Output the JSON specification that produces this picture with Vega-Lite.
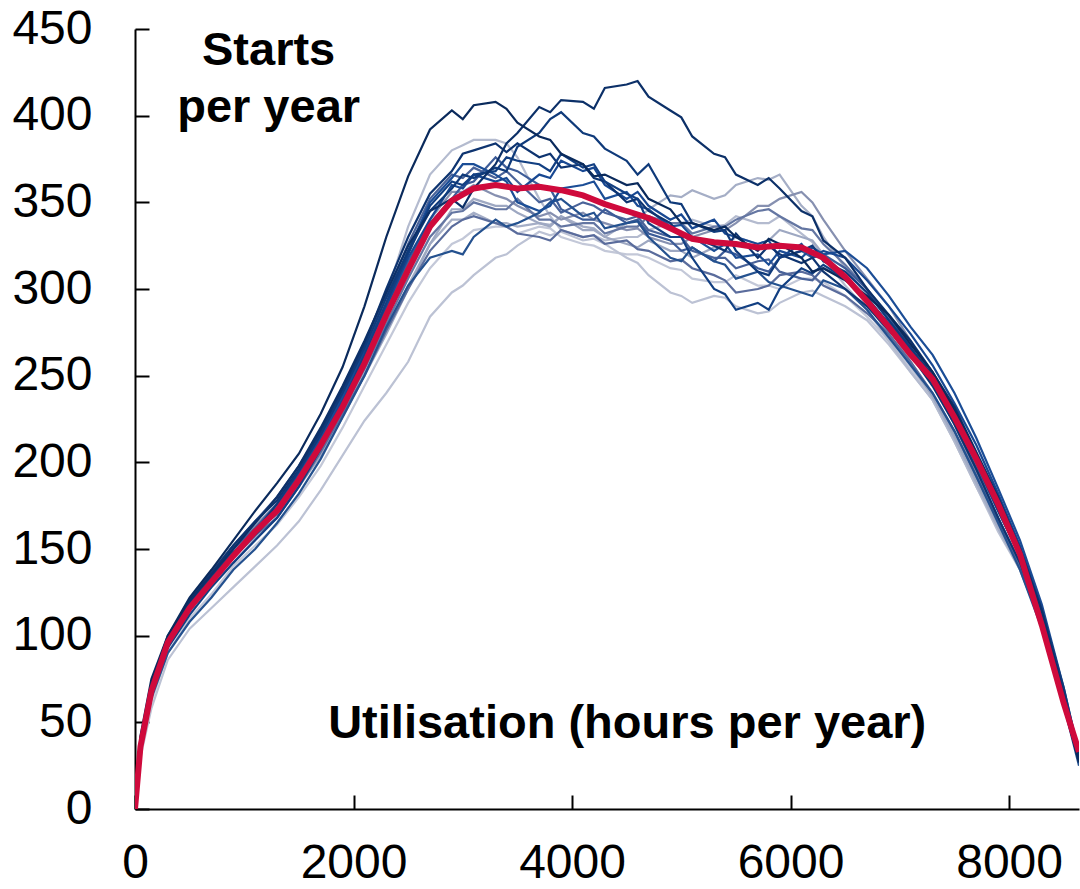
{
"$schema":"https://vega.github.io/schema/vega-lite/v6.json",
"width":944,"height":780,
"autosize":{"type":"none"},
"padding":{"left":135,"top":29,"right":1,"bottom":80},
"background":"white",
"config":{"view":{"stroke":null},"font":"Liberation Sans"},
"datasets":{
"years":[
{"s":18,"x":0,"y":0},{"s":18,"x":50,"y":33},{"s":18,"x":150,"y":62},{"s":18,"x":300,"y":90},{"s":18,"x":500,"y":110},{"s":18,"x":700,"y":124},{"s":18,"x":900,"y":140},{"s":18,"x":1100,"y":152},{"s":18,"x":1300,"y":164},{"s":18,"x":1500,"y":180},{"s":18,"x":1700,"y":198},{"s":18,"x":1900,"y":220},{"s":18,"x":2100,"y":244},{"s":18,"x":2300,"y":268},{"s":18,"x":2500,"y":292},{"s":18,"x":2700,"y":312},{"s":18,"x":2900,"y":326},{"s":18,"x":3100,"y":334},{"s":18,"x":3300,"y":336},{"s":18,"x":3500,"y":332},{"s":18,"x":3700,"y":336},{"s":18,"x":3900,"y":330},{"s":18,"x":4100,"y":326},{"s":18,"x":4300,"y":322},{"s":18,"x":4500,"y":320},{"s":18,"x":4700,"y":318},{"s":18,"x":4900,"y":312},{"s":18,"x":5100,"y":306},{"s":18,"x":5300,"y":304},{"s":18,"x":5500,"y":308},{"s":18,"x":5700,"y":302},{"s":18,"x":5900,"y":300},{"s":18,"x":6100,"y":306},{"s":18,"x":6300,"y":304},{"s":18,"x":6500,"y":296},{"s":18,"x":6700,"y":284},{"s":18,"x":6900,"y":270},{"s":18,"x":7100,"y":254},{"s":18,"x":7300,"y":236},{"s":18,"x":7500,"y":214},{"s":18,"x":7700,"y":190},{"s":18,"x":7900,"y":164},{"s":18,"x":8100,"y":140},{"s":18,"x":8300,"y":108},{"s":18,"x":8500,"y":66},{"s":18,"x":8640,"y":30},
{"s":17,"x":0,"y":0},{"s":17,"x":50,"y":30},{"s":17,"x":150,"y":58},{"s":17,"x":300,"y":86},{"s":17,"x":500,"y":104},{"s":17,"x":700,"y":116},{"s":17,"x":900,"y":128},{"s":17,"x":1100,"y":140},{"s":17,"x":1300,"y":152},{"s":17,"x":1500,"y":166},{"s":17,"x":1700,"y":184},{"s":17,"x":1900,"y":204},{"s":17,"x":2100,"y":224},{"s":17,"x":2300,"y":240},{"s":17,"x":2500,"y":258},{"s":17,"x":2700,"y":284},{"s":17,"x":2900,"y":298},{"s":17,"x":3100,"y":308},{"s":17,"x":3300,"y":318},{"s":17,"x":3500,"y":325},{"s":17,"x":3700,"y":333},{"s":17,"x":3900,"y":333},{"s":17,"x":4100,"y":328},{"s":17,"x":4300,"y":326},{"s":17,"x":4500,"y":318},{"s":17,"x":4700,"y":308},{"s":17,"x":4900,"y":298},{"s":17,"x":5100,"y":292},{"s":17,"x":5300,"y":296},{"s":17,"x":5500,"y":290},{"s":17,"x":5700,"y":286},{"s":17,"x":5900,"y":292},{"s":17,"x":6100,"y":298},{"s":17,"x":6300,"y":296},{"s":17,"x":6500,"y":290},{"s":17,"x":6700,"y":282},{"s":17,"x":6900,"y":268},{"s":17,"x":7100,"y":252},{"s":17,"x":7300,"y":236},{"s":17,"x":7500,"y":212},{"s":17,"x":7700,"y":186},{"s":17,"x":7900,"y":160},{"s":17,"x":8100,"y":138},{"s":17,"x":8300,"y":106},{"s":17,"x":8500,"y":64},{"s":17,"x":8640,"y":30},
{"s":16,"x":0,"y":0},{"s":16,"x":50,"y":34},{"s":16,"x":150,"y":64},{"s":16,"x":300,"y":94},{"s":16,"x":500,"y":118},{"s":16,"x":700,"y":136},{"s":16,"x":900,"y":152},{"s":16,"x":1100,"y":164},{"s":16,"x":1300,"y":176},{"s":16,"x":1500,"y":192},{"s":16,"x":1700,"y":212},{"s":16,"x":1900,"y":236},{"s":16,"x":2100,"y":262},{"s":16,"x":2300,"y":296},{"s":16,"x":2500,"y":336},{"s":16,"x":2700,"y":366},{"s":16,"x":2900,"y":380},{"s":16,"x":3100,"y":386},{"s":16,"x":3300,"y":386},{"s":16,"x":3500,"y":376},{"s":16,"x":3700,"y":352},{"s":16,"x":3900,"y":334},{"s":16,"x":4100,"y":330},{"s":16,"x":4300,"y":328},{"s":16,"x":4500,"y":330},{"s":16,"x":4700,"y":334},{"s":16,"x":4900,"y":338},{"s":16,"x":5100,"y":340},{"s":16,"x":5300,"y":336},{"s":16,"x":5500,"y":342},{"s":16,"x":5700,"y":338},{"s":16,"x":5900,"y":342},{"s":16,"x":6100,"y":332},{"s":16,"x":6300,"y":318},{"s":16,"x":6500,"y":302},{"s":16,"x":6700,"y":288},{"s":16,"x":6900,"y":270},{"s":16,"x":7100,"y":252},{"s":16,"x":7300,"y":236},{"s":16,"x":7500,"y":212},{"s":16,"x":7700,"y":186},{"s":16,"x":7900,"y":162},{"s":16,"x":8100,"y":140},{"s":16,"x":8300,"y":108},{"s":16,"x":8500,"y":68},{"s":16,"x":8640,"y":32},
{"s":15,"x":0,"y":0},{"s":15,"x":50,"y":37},{"s":15,"x":150,"y":68},{"s":15,"x":300,"y":98},{"s":15,"x":500,"y":120},{"s":15,"x":700,"y":136},{"s":15,"x":900,"y":150},{"s":15,"x":1100,"y":162},{"s":15,"x":1300,"y":174},{"s":15,"x":1500,"y":190},{"s":15,"x":1700,"y":208},{"s":15,"x":1900,"y":228},{"s":15,"x":2100,"y":252},{"s":15,"x":2300,"y":278},{"s":15,"x":2500,"y":302},{"s":15,"x":2700,"y":326},{"s":15,"x":2900,"y":340},{"s":15,"x":3100,"y":344},{"s":15,"x":3300,"y":338},{"s":15,"x":3500,"y":336},{"s":15,"x":3700,"y":338},{"s":15,"x":3900,"y":342},{"s":15,"x":4100,"y":336},{"s":15,"x":4300,"y":330},{"s":15,"x":4500,"y":338},{"s":15,"x":4700,"y":346},{"s":15,"x":4900,"y":354},{"s":15,"x":5100,"y":357},{"s":15,"x":5300,"y":352},{"s":15,"x":5500,"y":360},{"s":15,"x":5700,"y":364},{"s":15,"x":5900,"y":366},{"s":15,"x":6100,"y":348},{"s":15,"x":6300,"y":330},{"s":15,"x":6500,"y":312},{"s":15,"x":6700,"y":296},{"s":15,"x":6900,"y":278},{"s":15,"x":7100,"y":258},{"s":15,"x":7300,"y":238},{"s":15,"x":7500,"y":214},{"s":15,"x":7700,"y":188},{"s":15,"x":7900,"y":162},{"s":15,"x":8100,"y":138},{"s":15,"x":8300,"y":106},{"s":15,"x":8500,"y":64},{"s":15,"x":8640,"y":30},
{"s":14,"x":0,"y":0},{"s":14,"x":50,"y":36},{"s":14,"x":150,"y":66},{"s":14,"x":300,"y":96},{"s":14,"x":500,"y":116},{"s":14,"x":700,"y":128},{"s":14,"x":900,"y":142},{"s":14,"x":1100,"y":156},{"s":14,"x":1300,"y":168},{"s":14,"x":1500,"y":186},{"s":14,"x":1700,"y":204},{"s":14,"x":1900,"y":226},{"s":14,"x":2100,"y":250},{"s":14,"x":2300,"y":274},{"s":14,"x":2500,"y":300},{"s":14,"x":2700,"y":326},{"s":14,"x":2900,"y":346},{"s":14,"x":3100,"y":352},{"s":14,"x":3300,"y":348},{"s":14,"x":3500,"y":344},{"s":14,"x":3700,"y":338},{"s":14,"x":3900,"y":342},{"s":14,"x":4100,"y":334},{"s":14,"x":4300,"y":330},{"s":14,"x":4500,"y":326},{"s":14,"x":4700,"y":328},{"s":14,"x":4900,"y":322},{"s":14,"x":5100,"y":318},{"s":14,"x":5300,"y":324},{"s":14,"x":5500,"y":330},{"s":14,"x":5700,"y":326},{"s":14,"x":5900,"y":334},{"s":14,"x":6100,"y":330},{"s":14,"x":6300,"y":320},{"s":14,"x":6500,"y":308},{"s":14,"x":6700,"y":292},{"s":14,"x":6900,"y":274},{"s":14,"x":7100,"y":256},{"s":14,"x":7300,"y":238},{"s":14,"x":7500,"y":216},{"s":14,"x":7700,"y":190},{"s":14,"x":7900,"y":164},{"s":14,"x":8100,"y":140},{"s":14,"x":8300,"y":108},{"s":14,"x":8500,"y":66},{"s":14,"x":8640,"y":30},
{"s":13,"x":0,"y":0},{"s":13,"x":50,"y":38},{"s":13,"x":150,"y":68},{"s":13,"x":300,"y":97},{"s":13,"x":500,"y":118},{"s":13,"x":700,"y":134},{"s":13,"x":900,"y":150},{"s":13,"x":1100,"y":163},{"s":13,"x":1300,"y":176},{"s":13,"x":1500,"y":194},{"s":13,"x":1700,"y":215},{"s":13,"x":1900,"y":238},{"s":13,"x":2100,"y":262},{"s":13,"x":2300,"y":288},{"s":13,"x":2500,"y":314},{"s":13,"x":2700,"y":340},{"s":13,"x":2900,"y":356},{"s":13,"x":3100,"y":360},{"s":13,"x":3300,"y":354},{"s":13,"x":3500,"y":348},{"s":13,"x":3700,"y":342},{"s":13,"x":3900,"y":340},{"s":13,"x":4100,"y":344},{"s":13,"x":4300,"y":338},{"s":13,"x":4500,"y":334},{"s":13,"x":4700,"y":330},{"s":13,"x":4900,"y":326},{"s":13,"x":5100,"y":330},{"s":13,"x":5300,"y":334},{"s":13,"x":5500,"y":338},{"s":13,"x":5700,"y":348},{"s":13,"x":5900,"y":352},{"s":13,"x":6100,"y":356},{"s":13,"x":6300,"y":340},{"s":13,"x":6500,"y":322},{"s":13,"x":6700,"y":306},{"s":13,"x":6900,"y":290},{"s":13,"x":7100,"y":270},{"s":13,"x":7300,"y":248},{"s":13,"x":7500,"y":222},{"s":13,"x":7700,"y":194},{"s":13,"x":7900,"y":166},{"s":13,"x":8100,"y":140},{"s":13,"x":8300,"y":108},{"s":13,"x":8500,"y":66},{"s":13,"x":8640,"y":30},
{"s":12,"x":0,"y":0},{"s":12,"x":50,"y":37},{"s":12,"x":150,"y":67},{"s":12,"x":300,"y":95},{"s":12,"x":500,"y":117},{"s":12,"x":700,"y":131},{"s":12,"x":900,"y":147},{"s":12,"x":1100,"y":160},{"s":12,"x":1300,"y":170},{"s":12,"x":1500,"y":188},{"s":12,"x":1700,"y":208},{"s":12,"x":1900,"y":230},{"s":12,"x":2100,"y":254},{"s":12,"x":2300,"y":280},{"s":12,"x":2500,"y":306},{"s":12,"x":2700,"y":330},{"s":12,"x":2900,"y":344},{"s":12,"x":3100,"y":350},{"s":12,"x":3300,"y":346},{"s":12,"x":3500,"y":352},{"s":12,"x":3700,"y":340},{"s":12,"x":3900,"y":336},{"s":12,"x":4100,"y":338},{"s":12,"x":4300,"y":332},{"s":12,"x":4500,"y":336},{"s":12,"x":4700,"y":342},{"s":12,"x":4900,"y":338},{"s":12,"x":5100,"y":332},{"s":12,"x":5300,"y":336},{"s":12,"x":5500,"y":340},{"s":12,"x":5700,"y":345},{"s":12,"x":5900,"y":342},{"s":12,"x":6100,"y":335},{"s":12,"x":6300,"y":326},{"s":12,"x":6500,"y":314},{"s":12,"x":6700,"y":300},{"s":12,"x":6900,"y":282},{"s":12,"x":7100,"y":264},{"s":12,"x":7300,"y":246},{"s":12,"x":7500,"y":222},{"s":12,"x":7700,"y":196},{"s":12,"x":7900,"y":168},{"s":12,"x":8100,"y":142},{"s":12,"x":8300,"y":110},{"s":12,"x":8500,"y":66},{"s":12,"x":8640,"y":30},
{"s":11,"x":0,"y":0},{"s":11,"x":50,"y":36},{"s":11,"x":150,"y":65},{"s":11,"x":300,"y":94},{"s":11,"x":500,"y":114},{"s":11,"x":700,"y":130},{"s":11,"x":900,"y":146},{"s":11,"x":1100,"y":158},{"s":11,"x":1300,"y":168},{"s":11,"x":1500,"y":186},{"s":11,"x":1700,"y":206},{"s":11,"x":1900,"y":228},{"s":11,"x":2100,"y":250},{"s":11,"x":2300,"y":276},{"s":11,"x":2500,"y":300},{"s":11,"x":2700,"y":322},{"s":11,"x":2900,"y":336},{"s":11,"x":3100,"y":342},{"s":11,"x":3300,"y":338},{"s":11,"x":3500,"y":332},{"s":11,"x":3700,"y":330},{"s":11,"x":3900,"y":334},{"s":11,"x":4100,"y":330},{"s":11,"x":4300,"y":326},{"s":11,"x":4500,"y":328},{"s":11,"x":4700,"y":322},{"s":11,"x":4900,"y":316},{"s":11,"x":5100,"y":312},{"s":11,"x":5300,"y":308},{"s":11,"x":5500,"y":298},{"s":11,"x":5700,"y":300},{"s":11,"x":5900,"y":308},{"s":11,"x":6100,"y":310},{"s":11,"x":6300,"y":302},{"s":11,"x":6500,"y":296},{"s":11,"x":6700,"y":286},{"s":11,"x":6900,"y":274},{"s":11,"x":7100,"y":258},{"s":11,"x":7300,"y":240},{"s":11,"x":7500,"y":218},{"s":11,"x":7700,"y":192},{"s":11,"x":7900,"y":166},{"s":11,"x":8100,"y":140},{"s":11,"x":8300,"y":108},{"s":11,"x":8500,"y":64},{"s":11,"x":8640,"y":28},
{"s":10,"x":0,"y":0},{"s":10,"x":50,"y":39},{"s":10,"x":150,"y":71},{"s":10,"x":300,"y":99},{"s":10,"x":500,"y":121},{"s":10,"x":700,"y":137},{"s":10,"x":900,"y":152},{"s":10,"x":1100,"y":166},{"s":10,"x":1300,"y":180},{"s":10,"x":1500,"y":198},{"s":10,"x":1700,"y":218},{"s":10,"x":1900,"y":242},{"s":10,"x":2100,"y":268},{"s":10,"x":2300,"y":296},{"s":10,"x":2500,"y":326},{"s":10,"x":2700,"y":352},{"s":10,"x":2900,"y":366},{"s":10,"x":3100,"y":370},{"s":10,"x":3300,"y":364},{"s":10,"x":3500,"y":362},{"s":10,"x":3700,"y":350},{"s":10,"x":3900,"y":344},{"s":10,"x":4100,"y":350},{"s":10,"x":4300,"y":344},{"s":10,"x":4500,"y":340},{"s":10,"x":4700,"y":334},{"s":10,"x":4900,"y":330},{"s":10,"x":5100,"y":322},{"s":10,"x":5300,"y":318},{"s":10,"x":5500,"y":312},{"s":10,"x":5700,"y":316},{"s":10,"x":5900,"y":310},{"s":10,"x":6100,"y":306},{"s":10,"x":6300,"y":312},{"s":10,"x":6500,"y":306},{"s":10,"x":6700,"y":294},{"s":10,"x":6900,"y":280},{"s":10,"x":7100,"y":262},{"s":10,"x":7300,"y":246},{"s":10,"x":7500,"y":224},{"s":10,"x":7700,"y":198},{"s":10,"x":7900,"y":172},{"s":10,"x":8100,"y":146},{"s":10,"x":8300,"y":112},{"s":10,"x":8500,"y":68},{"s":10,"x":8640,"y":30},
{"s":9,"x":0,"y":0},{"s":9,"x":50,"y":38},{"s":9,"x":150,"y":70},{"s":9,"x":300,"y":98},{"s":9,"x":500,"y":118},{"s":9,"x":700,"y":134},{"s":9,"x":900,"y":150},{"s":9,"x":1100,"y":162},{"s":9,"x":1300,"y":176},{"s":9,"x":1500,"y":194},{"s":9,"x":1700,"y":214},{"s":9,"x":1900,"y":236},{"s":9,"x":2100,"y":260},{"s":9,"x":2300,"y":288},{"s":9,"x":2500,"y":316},{"s":9,"x":2700,"y":338},{"s":9,"x":2900,"y":352},{"s":9,"x":3100,"y":362},{"s":9,"x":3300,"y":376},{"s":9,"x":3500,"y":368},{"s":9,"x":3700,"y":360},{"s":9,"x":3900,"y":346},{"s":9,"x":4100,"y":340},{"s":9,"x":4300,"y":346},{"s":9,"x":4500,"y":338},{"s":9,"x":4700,"y":332},{"s":9,"x":4900,"y":328},{"s":9,"x":5100,"y":324},{"s":9,"x":5300,"y":316},{"s":9,"x":5500,"y":320},{"s":9,"x":5700,"y":312},{"s":9,"x":5900,"y":318},{"s":9,"x":6100,"y":322},{"s":9,"x":6300,"y":320},{"s":9,"x":6500,"y":312},{"s":9,"x":6700,"y":300},{"s":9,"x":6900,"y":284},{"s":9,"x":7100,"y":266},{"s":9,"x":7300,"y":248},{"s":9,"x":7500,"y":226},{"s":9,"x":7700,"y":200},{"s":9,"x":7900,"y":172},{"s":9,"x":8100,"y":146},{"s":9,"x":8300,"y":112},{"s":9,"x":8500,"y":68},{"s":9,"x":8640,"y":30},
{"s":8,"x":0,"y":0},{"s":8,"x":50,"y":35},{"s":8,"x":150,"y":64},{"s":8,"x":300,"y":90},{"s":8,"x":500,"y":108},{"s":8,"x":700,"y":122},{"s":8,"x":900,"y":138},{"s":8,"x":1100,"y":150},{"s":8,"x":1300,"y":165},{"s":8,"x":1500,"y":182},{"s":8,"x":1700,"y":202},{"s":8,"x":1900,"y":226},{"s":8,"x":2100,"y":250},{"s":8,"x":2300,"y":278},{"s":8,"x":2500,"y":302},{"s":8,"x":2700,"y":318},{"s":8,"x":2900,"y":322},{"s":8,"x":3100,"y":330},{"s":8,"x":3300,"y":340},{"s":8,"x":3500,"y":338},{"s":8,"x":3700,"y":344},{"s":8,"x":3900,"y":352},{"s":8,"x":4100,"y":342},{"s":8,"x":4300,"y":335},{"s":8,"x":4500,"y":338},{"s":8,"x":4700,"y":330},{"s":8,"x":4900,"y":318},{"s":8,"x":5100,"y":324},{"s":8,"x":5300,"y":316},{"s":8,"x":5500,"y":306},{"s":8,"x":5700,"y":310},{"s":8,"x":5900,"y":302},{"s":8,"x":6100,"y":298},{"s":8,"x":6300,"y":305},{"s":8,"x":6500,"y":300},{"s":8,"x":6700,"y":288},{"s":8,"x":6900,"y":272},{"s":8,"x":7100,"y":256},{"s":8,"x":7300,"y":240},{"s":8,"x":7500,"y":218},{"s":8,"x":7700,"y":192},{"s":8,"x":7900,"y":165},{"s":8,"x":8100,"y":138},{"s":8,"x":8300,"y":104},{"s":8,"x":8500,"y":60},{"s":8,"x":8640,"y":25},
{"s":7,"x":0,"y":0},{"s":7,"x":50,"y":40},{"s":7,"x":150,"y":72},{"s":7,"x":300,"y":100},{"s":7,"x":500,"y":119},{"s":7,"x":700,"y":132},{"s":7,"x":900,"y":147},{"s":7,"x":1100,"y":160},{"s":7,"x":1300,"y":174},{"s":7,"x":1500,"y":193},{"s":7,"x":1700,"y":214},{"s":7,"x":1900,"y":238},{"s":7,"x":2100,"y":264},{"s":7,"x":2300,"y":292},{"s":7,"x":2500,"y":322},{"s":7,"x":2700,"y":350},{"s":7,"x":2900,"y":364},{"s":7,"x":3100,"y":372},{"s":7,"x":3300,"y":366},{"s":7,"x":3500,"y":350},{"s":7,"x":3700,"y":345},{"s":7,"x":3900,"y":358},{"s":7,"x":4100,"y":360},{"s":7,"x":4300,"y":352},{"s":7,"x":4500,"y":356},{"s":7,"x":4700,"y":346},{"s":7,"x":4900,"y":336},{"s":7,"x":5100,"y":330},{"s":7,"x":5300,"y":322},{"s":7,"x":5500,"y":318},{"s":7,"x":5700,"y":320},{"s":7,"x":5900,"y":322},{"s":7,"x":6100,"y":318},{"s":7,"x":6300,"y":320},{"s":7,"x":6500,"y":322},{"s":7,"x":6700,"y":312},{"s":7,"x":6900,"y":296},{"s":7,"x":7100,"y":278},{"s":7,"x":7300,"y":262},{"s":7,"x":7500,"y":240},{"s":7,"x":7700,"y":214},{"s":7,"x":7900,"y":185},{"s":7,"x":8100,"y":155},{"s":7,"x":8300,"y":118},{"s":7,"x":8500,"y":70},{"s":7,"x":8640,"y":32},
{"s":6,"x":0,"y":0},{"s":6,"x":50,"y":37},{"s":6,"x":150,"y":69},{"s":6,"x":300,"y":95},{"s":6,"x":500,"y":115},{"s":6,"x":700,"y":131},{"s":6,"x":900,"y":145},{"s":6,"x":1100,"y":158},{"s":6,"x":1300,"y":172},{"s":6,"x":1500,"y":192},{"s":6,"x":1700,"y":212},{"s":6,"x":1900,"y":236},{"s":6,"x":2100,"y":263},{"s":6,"x":2300,"y":290},{"s":6,"x":2500,"y":318},{"s":6,"x":2700,"y":340},{"s":6,"x":2900,"y":360},{"s":6,"x":3100,"y":366},{"s":6,"x":3300,"y":362},{"s":6,"x":3500,"y":356},{"s":6,"x":3700,"y":366},{"s":6,"x":3900,"y":374},{"s":6,"x":4100,"y":368},{"s":6,"x":4300,"y":360},{"s":6,"x":4500,"y":352},{"s":6,"x":4700,"y":348},{"s":6,"x":4900,"y":340},{"s":6,"x":5100,"y":335},{"s":6,"x":5300,"y":340},{"s":6,"x":5500,"y":330},{"s":6,"x":5700,"y":326},{"s":6,"x":5900,"y":318},{"s":6,"x":6100,"y":326},{"s":6,"x":6300,"y":322},{"s":6,"x":6500,"y":318},{"s":6,"x":6700,"y":305},{"s":6,"x":6900,"y":290},{"s":6,"x":7100,"y":274},{"s":6,"x":7300,"y":256},{"s":6,"x":7500,"y":234},{"s":6,"x":7700,"y":210},{"s":6,"x":7900,"y":182},{"s":6,"x":8100,"y":152},{"s":6,"x":8300,"y":116},{"s":6,"x":8500,"y":68},{"s":6,"x":8640,"y":30},
{"s":5,"x":0,"y":0},{"s":5,"x":50,"y":39},{"s":5,"x":150,"y":70},{"s":5,"x":300,"y":99},{"s":5,"x":500,"y":120},{"s":5,"x":700,"y":136},{"s":5,"x":900,"y":152},{"s":5,"x":1100,"y":166},{"s":5,"x":1300,"y":178},{"s":5,"x":1500,"y":196},{"s":5,"x":1700,"y":218},{"s":5,"x":1900,"y":242},{"s":5,"x":2100,"y":268},{"s":5,"x":2300,"y":300},{"s":5,"x":2500,"y":330},{"s":5,"x":2700,"y":355},{"s":5,"x":2900,"y":368},{"s":5,"x":3100,"y":380},{"s":5,"x":3300,"y":384},{"s":5,"x":3500,"y":384},{"s":5,"x":3700,"y":376},{"s":5,"x":3900,"y":370},{"s":5,"x":4100,"y":372},{"s":5,"x":4300,"y":362},{"s":5,"x":4500,"y":350},{"s":5,"x":4700,"y":345},{"s":5,"x":4900,"y":338},{"s":5,"x":5100,"y":330},{"s":5,"x":5300,"y":325},{"s":5,"x":5500,"y":332},{"s":5,"x":5700,"y":318},{"s":5,"x":5900,"y":320},{"s":5,"x":6100,"y":315},{"s":5,"x":6300,"y":310},{"s":5,"x":6500,"y":300},{"s":5,"x":6700,"y":290},{"s":5,"x":6900,"y":276},{"s":5,"x":7100,"y":262},{"s":5,"x":7300,"y":244},{"s":5,"x":7500,"y":222},{"s":5,"x":7700,"y":196},{"s":5,"x":7900,"y":168},{"s":5,"x":8100,"y":142},{"s":5,"x":8300,"y":108},{"s":5,"x":8500,"y":62},{"s":5,"x":8640,"y":27},
{"s":4,"x":0,"y":0},{"s":4,"x":50,"y":36},{"s":4,"x":150,"y":66},{"s":4,"x":300,"y":93},{"s":4,"x":500,"y":112},{"s":4,"x":700,"y":128},{"s":4,"x":900,"y":142},{"s":4,"x":1100,"y":155},{"s":4,"x":1300,"y":168},{"s":4,"x":1500,"y":186},{"s":4,"x":1700,"y":208},{"s":4,"x":1900,"y":234},{"s":4,"x":2100,"y":262},{"s":4,"x":2300,"y":292},{"s":4,"x":2500,"y":320},{"s":4,"x":2700,"y":348},{"s":4,"x":2900,"y":362},{"s":4,"x":3100,"y":366},{"s":4,"x":3300,"y":368},{"s":4,"x":3500,"y":374},{"s":4,"x":3700,"y":372},{"s":4,"x":3900,"y":378},{"s":4,"x":4100,"y":370},{"s":4,"x":4300,"y":362},{"s":4,"x":4500,"y":355},{"s":4,"x":4700,"y":338},{"s":4,"x":4900,"y":330},{"s":4,"x":5100,"y":318},{"s":4,"x":5300,"y":300},{"s":4,"x":5500,"y":288},{"s":4,"x":5700,"y":292},{"s":4,"x":5900,"y":300},{"s":4,"x":6100,"y":312},{"s":4,"x":6300,"y":314},{"s":4,"x":6500,"y":306},{"s":4,"x":6700,"y":295},{"s":4,"x":6900,"y":280},{"s":4,"x":7100,"y":265},{"s":4,"x":7300,"y":250},{"s":4,"x":7500,"y":226},{"s":4,"x":7700,"y":200},{"s":4,"x":7900,"y":172},{"s":4,"x":8100,"y":146},{"s":4,"x":8300,"y":110},{"s":4,"x":8500,"y":64},{"s":4,"x":8640,"y":28},
{"s":3,"x":0,"y":0},{"s":3,"x":50,"y":41},{"s":3,"x":150,"y":70},{"s":3,"x":300,"y":97},{"s":3,"x":500,"y":118},{"s":3,"x":700,"y":133},{"s":3,"x":900,"y":148},{"s":3,"x":1100,"y":160},{"s":3,"x":1300,"y":176},{"s":3,"x":1500,"y":195},{"s":3,"x":1700,"y":216},{"s":3,"x":1900,"y":240},{"s":3,"x":2100,"y":266},{"s":3,"x":2300,"y":295},{"s":3,"x":2500,"y":322},{"s":3,"x":2700,"y":345},{"s":3,"x":2900,"y":358},{"s":3,"x":3100,"y":364},{"s":3,"x":3300,"y":370},{"s":3,"x":3500,"y":382},{"s":3,"x":3700,"y":390},{"s":3,"x":3900,"y":402},{"s":3,"x":4100,"y":390},{"s":3,"x":4300,"y":381},{"s":3,"x":4500,"y":374},{"s":3,"x":4700,"y":372},{"s":3,"x":4900,"y":350},{"s":3,"x":5100,"y":338},{"s":3,"x":5300,"y":333},{"s":3,"x":5500,"y":322},{"s":3,"x":5700,"y":310},{"s":3,"x":5900,"y":318},{"s":3,"x":6100,"y":322},{"s":3,"x":6300,"y":316},{"s":3,"x":6500,"y":310},{"s":3,"x":6700,"y":298},{"s":3,"x":6900,"y":282},{"s":3,"x":7100,"y":266},{"s":3,"x":7300,"y":250},{"s":3,"x":7500,"y":228},{"s":3,"x":7700,"y":202},{"s":3,"x":7900,"y":176},{"s":3,"x":8100,"y":150},{"s":3,"x":8300,"y":115},{"s":3,"x":8500,"y":70},{"s":3,"x":8640,"y":31},
{"s":2,"x":0,"y":0},{"s":2,"x":50,"y":40},{"s":2,"x":150,"y":72},{"s":2,"x":300,"y":98},{"s":2,"x":500,"y":120},{"s":2,"x":700,"y":135},{"s":2,"x":900,"y":150},{"s":2,"x":1100,"y":165},{"s":2,"x":1300,"y":180},{"s":2,"x":1500,"y":198},{"s":2,"x":1700,"y":220},{"s":2,"x":1900,"y":244},{"s":2,"x":2100,"y":270},{"s":2,"x":2300,"y":298},{"s":2,"x":2500,"y":325},{"s":2,"x":2700,"y":345},{"s":2,"x":2900,"y":352},{"s":2,"x":3100,"y":358},{"s":2,"x":3300,"y":372},{"s":2,"x":3500,"y":390},{"s":2,"x":3700,"y":405},{"s":2,"x":3900,"y":409},{"s":2,"x":4100,"y":408},{"s":2,"x":4300,"y":416},{"s":2,"x":4500,"y":418},{"s":2,"x":4700,"y":411},{"s":2,"x":4900,"y":403},{"s":2,"x":5100,"y":388},{"s":2,"x":5300,"y":378},{"s":2,"x":5500,"y":366},{"s":2,"x":5700,"y":360},{"s":2,"x":5900,"y":358},{"s":2,"x":6100,"y":345},{"s":2,"x":6300,"y":328},{"s":2,"x":6500,"y":318},{"s":2,"x":6700,"y":300},{"s":2,"x":6900,"y":285},{"s":2,"x":7100,"y":270},{"s":2,"x":7300,"y":252},{"s":2,"x":7500,"y":232},{"s":2,"x":7700,"y":206},{"s":2,"x":7900,"y":180},{"s":2,"x":8100,"y":150},{"s":2,"x":8300,"y":114},{"s":2,"x":8500,"y":66},{"s":2,"x":8640,"y":30},
{"s":1,"x":0,"y":0},{"s":1,"x":50,"y":42},{"s":1,"x":150,"y":75},{"s":1,"x":300,"y":100},{"s":1,"x":500,"y":122},{"s":1,"x":700,"y":138},{"s":1,"x":900,"y":155},{"s":1,"x":1100,"y":172},{"s":1,"x":1300,"y":188},{"s":1,"x":1500,"y":205},{"s":1,"x":1700,"y":228},{"s":1,"x":1900,"y":255},{"s":1,"x":2100,"y":290},{"s":1,"x":2300,"y":330},{"s":1,"x":2500,"y":365},{"s":1,"x":2700,"y":392},{"s":1,"x":2900,"y":403},{"s":1,"x":3100,"y":406},{"s":1,"x":3300,"y":408},{"s":1,"x":3500,"y":396},{"s":1,"x":3700,"y":388},{"s":1,"x":3900,"y":378},{"s":1,"x":4100,"y":372},{"s":1,"x":4300,"y":366},{"s":1,"x":4500,"y":360},{"s":1,"x":4700,"y":352},{"s":1,"x":4900,"y":346},{"s":1,"x":5100,"y":338},{"s":1,"x":5300,"y":334},{"s":1,"x":5500,"y":330},{"s":1,"x":5700,"y":322},{"s":1,"x":5900,"y":326},{"s":1,"x":6100,"y":318},{"s":1,"x":6300,"y":312},{"s":1,"x":6500,"y":305},{"s":1,"x":6700,"y":296},{"s":1,"x":6900,"y":285},{"s":1,"x":7100,"y":268},{"s":1,"x":7300,"y":252},{"s":1,"x":7500,"y":230},{"s":1,"x":7700,"y":205},{"s":1,"x":7900,"y":175},{"s":1,"x":8100,"y":148},{"s":1,"x":8300,"y":108},{"s":1,"x":8500,"y":60},{"s":1,"x":8640,"y":27},
{"s":1,"x":3000,"y":398},{"s":1,"x":3400,"y":404},{"s":1,"x":3800,"y":386},{"s":1,"x":4200,"y":365},{"s":1,"x":4600,"y":361},{"s":1,"x":5000,"y":338},{"s":1,"x":5400,"y":336},{"s":1,"x":5800,"y":329},{"s":1,"x":6200,"y":310},
{"s":2,"x":3000,"y":347},{"s":2,"x":3400,"y":384},{"s":2,"x":3800,"y":402},{"s":2,"x":4200,"y":404},{"s":2,"x":4600,"y":420},{"s":2,"x":5000,"y":399},{"s":2,"x":5400,"y":376},{"s":2,"x":5800,"y":364},{"s":2,"x":6200,"y":342},
{"s":3,"x":3000,"y":366},{"s":3,"x":3400,"y":368},{"s":3,"x":3800,"y":398},{"s":3,"x":4200,"y":388},{"s":3,"x":4600,"y":366},{"s":3,"x":5000,"y":349},{"s":3,"x":5400,"y":334},{"s":3,"x":5800,"y":308},{"s":3,"x":6200,"y":325},
{"s":4,"x":3000,"y":360},{"s":4,"x":3400,"y":376},{"s":4,"x":3800,"y":368},{"s":4,"x":4200,"y":372},{"s":4,"x":4600,"y":352},{"s":4,"x":5000,"y":330},{"s":4,"x":5400,"y":297},{"s":4,"x":5800,"y":288},{"s":4,"x":6200,"y":309},
{"s":5,"x":3000,"y":378},{"s":5,"x":3400,"y":379},{"s":5,"x":3800,"y":378},{"s":5,"x":4200,"y":364},{"s":5,"x":4600,"y":352},{"s":5,"x":5000,"y":330},{"s":5,"x":5400,"y":322},{"s":5,"x":5800,"y":325},{"s":5,"x":6200,"y":318},
{"s":6,"x":3000,"y":358},{"s":6,"x":3400,"y":364},{"s":6,"x":3800,"y":364},{"s":6,"x":4200,"y":370},{"s":6,"x":4600,"y":356},{"s":6,"x":5000,"y":343},{"s":6,"x":5400,"y":332},{"s":6,"x":5800,"y":328},{"s":6,"x":6200,"y":318},
{"s":7,"x":3000,"y":372},{"s":7,"x":3400,"y":362},{"s":7,"x":3800,"y":348},{"s":7,"x":4200,"y":362},{"s":7,"x":4600,"y":348},{"s":7,"x":5000,"y":337},{"s":7,"x":5400,"y":326},{"s":7,"x":5800,"y":314},{"s":7,"x":6200,"y":324},
{"s":8,"x":3000,"y":320},{"s":8,"x":3400,"y":336},{"s":8,"x":3800,"y":350},{"s":8,"x":4200,"y":344},{"s":8,"x":4600,"y":339},{"s":8,"x":5000,"y":316},{"s":8,"x":5400,"y":314},{"s":8,"x":5800,"y":304},{"s":8,"x":6200,"y":296},
{"s":9,"x":3000,"y":360},{"s":9,"x":3400,"y":370},{"s":9,"x":3800,"y":358},{"s":9,"x":4200,"y":340},{"s":9,"x":4600,"y":340},{"s":9,"x":5000,"y":322},{"s":9,"x":5400,"y":322},{"s":9,"x":5800,"y":310},{"s":9,"x":6200,"y":318},
{"s":10,"x":3000,"y":364},{"s":10,"x":3400,"y":368},{"s":10,"x":3800,"y":352},{"s":10,"x":4200,"y":348},{"s":10,"x":4600,"y":342},{"s":10,"x":5000,"y":330},{"s":10,"x":5400,"y":318},{"s":10,"x":5800,"y":317},{"s":10,"x":6200,"y":305},
{"s":11,"x":3000,"y":340},{"s":11,"x":3400,"y":336},{"s":11,"x":3800,"y":328},{"s":11,"x":4200,"y":331},{"s":11,"x":4600,"y":323},{"s":11,"x":5000,"y":317},{"s":11,"x":5400,"y":305},{"s":11,"x":5800,"y":302},{"s":11,"x":6200,"y":308},
{"s":12,"x":3000,"y":345},{"s":12,"x":3400,"y":346},{"s":12,"x":3800,"y":340},{"s":12,"x":4200,"y":338},{"s":12,"x":4600,"y":336},{"s":12,"x":5000,"y":338},{"s":12,"x":5400,"y":336},{"s":12,"x":5800,"y":346},{"s":12,"x":6200,"y":334},
{"s":13,"x":3000,"y":356},{"s":13,"x":3400,"y":352},{"s":13,"x":3800,"y":344},{"s":13,"x":4200,"y":340},{"s":13,"x":4600,"y":335},{"s":13,"x":5000,"y":326},{"s":13,"x":5400,"y":334},{"s":13,"x":5800,"y":348},{"s":13,"x":6200,"y":350},
{"s":14,"x":3000,"y":346},{"s":14,"x":3400,"y":348},{"s":14,"x":3800,"y":336},{"s":14,"x":4200,"y":334},{"s":14,"x":4600,"y":324},{"s":14,"x":5000,"y":322},{"s":14,"x":5400,"y":325},{"s":14,"x":5800,"y":328},{"s":14,"x":6200,"y":328},
{"s":15,"x":3000,"y":340},{"s":15,"x":3400,"y":338},{"s":15,"x":3800,"y":337},{"s":15,"x":4200,"y":335},{"s":15,"x":4600,"y":340},{"s":15,"x":5000,"y":353},{"s":15,"x":5400,"y":354},{"s":15,"x":5800,"y":363},{"s":15,"x":6200,"y":342},
{"s":16,"x":3000,"y":383},{"s":16,"x":3400,"y":384},{"s":16,"x":3800,"y":342},{"s":16,"x":4200,"y":331},{"s":16,"x":4600,"y":330},{"s":16,"x":5000,"y":338},{"s":16,"x":5400,"y":337},{"s":16,"x":5800,"y":338},{"s":16,"x":6200,"y":327},
{"s":17,"x":3000,"y":302},{"s":17,"x":3400,"y":320},{"s":17,"x":3800,"y":331},{"s":17,"x":4200,"y":329},{"s":17,"x":4600,"y":315},{"s":17,"x":5000,"y":296},{"s":17,"x":5400,"y":295},{"s":17,"x":5800,"y":287},{"s":17,"x":6200,"y":299},
{"s":18,"x":3000,"y":329},{"s":18,"x":3400,"y":336},{"s":18,"x":3800,"y":335},{"s":18,"x":4200,"y":325},{"s":18,"x":4600,"y":320},{"s":18,"x":5000,"y":311},{"s":18,"x":5400,"y":304},{"s":18,"x":5800,"y":302},{"s":18,"x":6200,"y":306}
],
"mean":[
{"x":0,"y":0},{"x":50,"y":36},{"x":150,"y":68},{"x":300,"y":96},{"x":500,"y":116},{"x":700,"y":131},{"x":900,"y":146},{"x":1100,"y":160},{"x":1300,"y":172},{"x":1500,"y":190},{"x":1700,"y":210},{"x":1900,"y":232},{"x":2100,"y":257},{"x":2300,"y":285},{"x":2500,"y":311},{"x":2700,"y":336},{"x":2900,"y":351},{"x":3100,"y":358},{"x":3300,"y":360},{"x":3500,"y":358},{"x":3700,"y":359},{"x":3900,"y":357},{"x":4100,"y":354},{"x":4300,"y":349},{"x":4500,"y":345},{"x":4700,"y":341},{"x":4900,"y":335},{"x":5100,"y":329},{"x":5300,"y":327},{"x":5500,"y":326},{"x":5700,"y":324},{"x":5900,"y":325},{"x":6100,"y":324},{"x":6300,"y":318},{"x":6500,"y":307},{"x":6700,"y":293},{"x":6900,"y":278},{"x":7100,"y":262},{"x":7300,"y":248},{"x":7500,"y":226},{"x":7700,"y":202},{"x":7900,"y":176},{"x":8100,"y":147},{"x":8300,"y":106},{"x":8500,"y":61},{"x":8640,"y":33}
],
"labels":[
{"t":"Starts","x":1223,"y":429},
{"t":"per year","x":1223,"y":396.5},
{"t":"Utilisation (hours per year)","x":4505,"y":41}
]
},
"layer":[
{"data":{"name":"years"},
 "mark":{"type":"line","strokeWidth":2.2,"clip":true},
 "encoding":{
  "x":{"field":"x","type":"quantitative","scale":{"domain":[0,8640],"nice":false,"zero":false},
   "axis":{"values":[0,2000,4000,6000,8000],"format":"d","title":null,"grid":false,"tickSize":-14,"tickWidth":2,"tickColor":"black","domainColor":"black","domainWidth":2,"labelPadding":44,"labelFontSize":48,"labelFont":"Liberation Sans","labelColor":"black","labelFlush":false,"labelOverlap":false}},
  "y":{"field":"y","type":"quantitative","scale":{"domain":[0,450],"nice":false},
   "axis":{"values":[0,50,100,150,200,250,300,350,400,450],"format":"d","title":null,"grid":false,"tickSize":-14,"tickWidth":2,"tickColor":"black","domainColor":"black","domainWidth":2,"labelPadding":57,"labelFontSize":48,"labelFont":"Liberation Sans","labelColor":"black","labelOverlap":false}},
  "color":{"field":"s","type":"nominal","legend":null,
   "scale":{"domain":[1,2,3,4,5,6,7,8,9,10,11,12,13,14,15,16,17,18],
   "range":["#0a2a5c","#0c3068","#0f3a7a","#123f82","#0e3470","#184892","#1b4d96","#24518f","#3d5c98","#4a6399","#5a6c9c","#6476a2","#8690b0","#9ea8c2","#a5aec6","#b4bbcf","#bcc2d4","#c3c8d8"]}}
 }},
{"data":{"name":"mean"},
 "mark":{"type":"line","strokeWidth":6,"color":"#cf0a3c","clip":true},
 "encoding":{"x":{"field":"x","type":"quantitative"},"y":{"field":"y","type":"quantitative"}}},
{"data":{"name":"labels"},
 "mark":{"type":"text","font":"Liberation Sans","fontWeight":"bold","fontSize":47,"align":"center","baseline":"alphabetic","color":"black"},
 "encoding":{"x":{"field":"x","type":"quantitative"},"y":{"field":"y","type":"quantitative"},"text":{"field":"t"}}}
]
}
